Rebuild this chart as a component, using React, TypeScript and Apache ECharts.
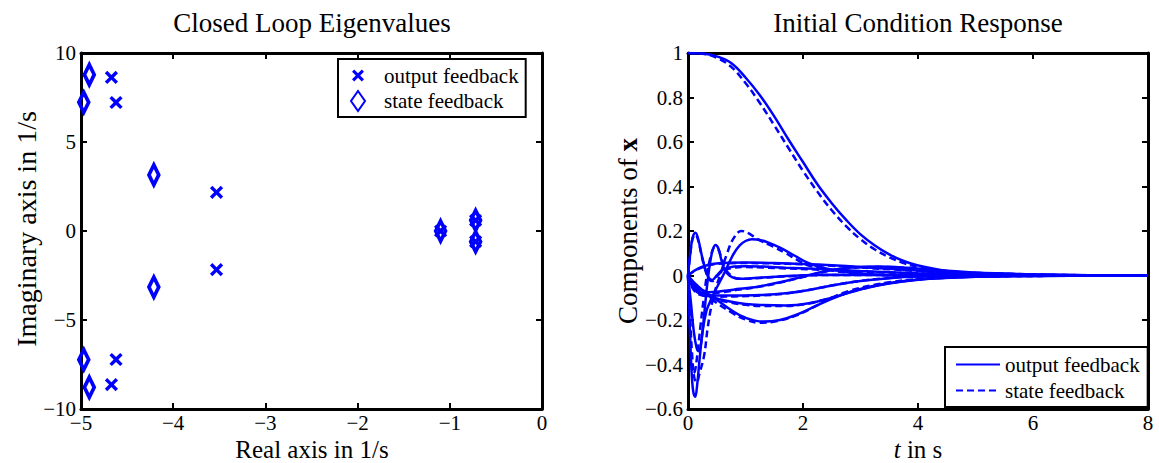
import React, { useEffect, useRef } from "react";
import * as echarts from "echarts";

const FONT = "Liberation Serif";
const BLUE = "#0000ff";

// ---- Left chart: closed loop eigenvalues [real, imag] ----
const outputEig: number[][] = [
  [-4.67, 8.63], [-4.62, 7.22], [-3.53, 2.17], [-3.53, -2.17],
  [-4.62, -7.22], [-4.67, -8.63], [-1.1, 0], [-0.72, 0.6], [-0.72, -0.6],
];
const stateEig: number[][] = [
  [-4.91, 8.78], [-4.97, 7.23], [-4.21, 3.15], [-4.21, -3.15],
  [-4.97, -7.23], [-4.91, -8.78], [-1.1, 0], [-0.72, 0.6], [-0.72, -0.6],
];
const realTicks = [-5, -4, -3, -2, -1, 0];
const imagTicks = [-10, -5, 0, 5, 10];

// ---- Right chart: initial condition response [t, x_i] ----
// output feedback (solid)
const oA = [[0,1],[0.25,0.998],[0.5,0.985],[0.75,0.955],[1,0.89],[1.25,0.81],[1.5,0.715],[1.75,0.61],[2,0.51],[2.25,0.41],[2.5,0.325],[2.75,0.25],[3,0.185],[3.25,0.135],[3.5,0.095],[3.75,0.065],[4,0.045],[4.5,0.02],[5,0.01],[6,0.003],[7,0.001],[8,0]];
const oB = [[0,0],[0.04,0.1],[0.08,0.17],[0.13,0.192],[0.18,0.16],[0.24,0.09],[0.3,0.03],[0.36,-0.01],[0.42,-0.02],[0.5,0],[0.6,0.025],[0.8,0.04],[1,0.042],[1.3,0.04],[1.7,0.035],[2.2,0.03],[3,0.02],[4,0.01],[5,0.004],[6,0.001],[8,0]];
const oC = [[0,0],[0.03,-0.22],[0.06,-0.42],[0.09,-0.52],[0.125,-0.545],[0.16,-0.49],[0.2,-0.38],[0.26,-0.24],[0.32,-0.16],[0.38,-0.12],[0.45,-0.08],[0.55,-0.03],[0.63,0.01],[0.72,0.06],[0.8,0.1],[0.9,0.135],[1,0.155],[1.11,0.163],[1.25,0.16],[1.4,0.148],[1.6,0.125],[1.85,0.09],[2.1,0.055],[2.4,0.032],[2.8,0.015],[3.3,0.003],[4,-0.003],[5,-0.003],[6,-0.001],[8,0]];
const oD = [[0,0],[0.05,-0.12],[0.1,-0.25],[0.15,-0.325],[0.19,-0.34],[0.23,-0.3],[0.28,-0.18],[0.33,-0.05],[0.38,0.05],[0.43,0.115],[0.48,0.137],[0.53,0.12],[0.58,0.07],[0.64,0.025],[0.72,0],[0.82,-0.012],[0.95,-0.015],[1.2,-0.01],[1.6,-0.004],[2.5,0.003],[4,0.002],[8,0]];
const oE = [[0,0],[0.1,-0.03],[0.25,-0.065],[0.45,-0.1],[0.75,-0.155],[1,-0.19],[1.3,-0.207],[1.6,-0.2],[1.9,-0.175],[2.2,-0.14],[2.5,-0.105],[2.8,-0.075],[3.2,-0.048],[3.6,-0.03],[4,-0.018],[4.5,-0.01],[5,-0.006],[6,-0.002],[8,0]];
const oF = [[0,0],[0.1,-0.05],[0.25,-0.08],[0.45,-0.1],[0.7,-0.115],[1,-0.128],[1.3,-0.133],[1.7,-0.135],[2.1,-0.125],[2.5,-0.1],[2.9,-0.07],[3.3,-0.045],[3.7,-0.028],[4.2,-0.015],[5,-0.006],[6,-0.002],[8,0]];
const oG = [[0,0],[0.1,-0.06],[0.25,-0.085],[0.5,-0.09],[0.8,-0.09],[1.26,-0.088],[1.7,-0.08],[2.1,-0.065],[2.5,-0.045],[3,-0.025],[3.5,-0.012],[4,-0.005],[5,0],[8,0]];
const oH = [[0,0],[0.1,0.02],[0.25,0.04],[0.45,0.053],[0.7,0.057],[1,0.058],[1.5,0.056],[2,0.052],[2.5,0.046],[3,0.038],[3.5,0.03],[4,0.022],[4.5,0.015],[5,0.01],[6,0.004],[7,0.001],[8,0]];
const oI = [[0,0],[0.15,-0.05],[0.35,-0.075],[0.6,-0.07],[0.9,-0.06],[1.26,-0.048],[1.6,-0.03],[2,-0.005],[2.4,0.02],[2.8,0.035],[3.3,0.04],[3.8,0.035],[4.3,0.025],[5,0.013],[6,0.005],[7,0.001],[8,0]];
// state feedback (dashed)
const sA = [[0,1],[0.25,0.997],[0.5,0.978],[0.75,0.938],[1,0.865],[1.25,0.775],[1.5,0.675],[1.75,0.572],[2,0.47],[2.25,0.377],[2.5,0.293],[2.75,0.222],[3,0.163],[3.25,0.117],[3.5,0.082],[3.75,0.056],[4,0.038],[4.5,0.017],[5,0.008],[6,0.002],[7,0.0005],[8,0]];
const sB = [[0,0],[0.04,0.095],[0.08,0.165],[0.13,0.185],[0.18,0.155],[0.24,0.085],[0.3,0.025],[0.36,-0.015],[0.42,-0.025],[0.5,-0.005],[0.6,0.02],[0.8,0.035],[1,0.038],[1.3,0.036],[1.7,0.032],[2.2,0.027],[3,0.018],[4,0.009],[5,0.004],[6,0.001],[8,0]];
const sC = [[0,0],[0.03,-0.15],[0.07,-0.35],[0.11,-0.46],[0.15,-0.48],[0.2,-0.44],[0.28,-0.36],[0.34,-0.24],[0.4,-0.146],[0.48,-0.06],[0.57,0.01],[0.68,0.1],[0.8,0.17],[0.93,0.2],[1.05,0.19],[1.2,0.165],[1.48,0.13],[1.7,0.1],[1.9,0.07],[2.1,0.045],[2.4,0.027],[2.8,0.012],[3.3,0.002],[4,-0.003],[5,-0.002],[8,0]];
const sD = [[0,0],[0.03,-0.2],[0.06,-0.38],[0.09,-0.44],[0.12,-0.43],[0.16,-0.36],[0.22,-0.22],[0.28,-0.09],[0.34,0.02],[0.4,0.09],[0.46,0.125],[0.52,0.12],[0.58,0.08],[0.65,0.03],[0.75,0],[0.9,-0.015],[1.2,-0.012],[1.6,-0.005],[2.5,0.002],[8,0]];
const sE = [[0,0],[0.1,-0.035],[0.25,-0.075],[0.45,-0.115],[0.75,-0.165],[1,-0.198],[1.25,-0.212],[1.55,-0.205],[1.9,-0.178],[2.2,-0.14],[2.5,-0.1],[2.8,-0.07],[3.2,-0.044],[3.6,-0.027],[4,-0.016],[4.5,-0.009],[5,-0.005],[6,-0.002],[8,0]];
const sF = [[0,0],[0.1,-0.055],[0.25,-0.085],[0.45,-0.105],[0.7,-0.12],[1,-0.132],[1.3,-0.137],[1.7,-0.137],[2.1,-0.126],[2.5,-0.1],[2.9,-0.069],[3.3,-0.044],[3.7,-0.027],[4.2,-0.014],[5,-0.005],[6,-0.002],[8,0]];
const sG = [[0,0],[0.1,-0.065],[0.25,-0.09],[0.5,-0.095],[0.8,-0.094],[1.26,-0.09],[1.7,-0.081],[2.1,-0.065],[2.5,-0.045],[3,-0.024],[3.5,-0.011],[4,-0.004],[5,0],[8,0]];
const sH = [[0,0],[0.1,0.018],[0.25,0.037],[0.45,0.05],[0.7,0.055],[1,0.056],[1.5,0.054],[2,0.05],[2.5,0.044],[3,0.036],[3.5,0.028],[4,0.02],[4.5,0.014],[5,0.009],[6,0.004],[7,0.001],[8,0]];
const sI = [[0,0],[0.15,-0.055],[0.35,-0.08],[0.6,-0.075],[0.9,-0.063],[1.26,-0.05],[1.6,-0.032],[2,-0.007],[2.4,0.018],[2.8,0.033],[3.3,0.038],[3.8,0.034],[4.3,0.024],[5,0.012],[6,0.005],[7,0.001],[8,0]];

const outputCurves = [oA, oB, oC, oD, oE, oF, oG, oH, oI];
const stateCurves = [sA, sB, sC, sD, sE, sF, sG, sH, sI];
const timeTicks = [0, 2, 4, 6, 8];
const respTicks = [-0.6, -0.4, -0.2, 0, 0.2, 0.4, 0.6, 0.8, 1];

const legendNames: Record<string, string> = {
  outLine: "output feedback",
  stateLine: "state feedback",
};

const X_PATH =
  "path://M0,0M20,20M4,6.2L6.2,4L10,7.8L13.8,4L16,6.2L12.2,10L16,13.8L13.8,16L10,12.2L6.2,16L4,13.8L7.8,10Z";
const DIAMOND_PATH = "path://M7,0L14,10L7,20L0,10Z";

const fmt = (v: number) => {
  const r = Math.round(v * 10) / 10;
  return String(r).replace("-", "\u2212");
};

function axisPair(grid: number, ticks: number[], main: string, mirror: string, margin: number) {
  const min = ticks[0];
  const max = ticks[ticks.length - 1];
  const interval = ticks[1] - ticks[0];
  const common = {
    type: "value",
    gridIndex: grid,
    min,
    max,
    interval,
    splitLine: { show: false },
    axisLine: { show: true, onZero: false, lineStyle: { color: "#000", width: 3 } },
    axisTick: { show: true, inside: true, length: 6, lineStyle: { color: "#000", width: 2 } },
  };
  return [
    {
      ...common,
      position: main,
      axisLabel: {
        show: true,
        margin,
        color: "#000",
        fontFamily: FONT,
        fontSize: 21,
        formatter: fmt,
        showMinLabel: true,
        showMaxLabel: true,
      },
    },
    { ...common, position: mirror, axisLabel: { show: false } },
  ];
}

export default function App() {
  const ref = useRef<HTMLDivElement>(null);

  useEffect(() => {
    if (!ref.current) return;
    const chart = echarts.init(ref.current, undefined, { renderer: "svg" });

    const lineSeries: any[] = [];
    outputCurves.forEach((c) =>
      lineSeries.push({
        type: "line",
        name: "outLine",
        xAxisIndex: 2,
        yAxisIndex: 2,
        data: c,
        symbol: "none",
        smooth: 0.4,
        lineStyle: { color: BLUE, width: 2.5, type: "solid" },
        itemStyle: { color: BLUE },
      })
    );
    stateCurves.forEach((c) =>
      lineSeries.push({
        type: "line",
        name: "stateLine",
        xAxisIndex: 2,
        yAxisIndex: 2,
        data: c,
        symbol: "none",
        smooth: 0.4,
        lineStyle: { color: BLUE, width: 2.5, type: [7, 4] },
        itemStyle: { color: BLUE },
      })
    );

    const textStyle = { fontFamily: FONT, fill: "#000", align: "center", verticalAlign: "middle" };

    chart.setOption({
      animation: false,
      backgroundColor: "#fff",
      textStyle: { fontFamily: FONT, color: "#000" },
      grid: [
        { left: 81, right: 617, top: 53, bottom: 54 },
        { left: 688, right: 11, top: 53, bottom: 54 },
      ],
      xAxis: [
        ...axisPair(0, realTicks, "bottom", "top", 3),
        ...axisPair(1, timeTicks, "bottom", "top", 3),
      ],
      yAxis: [
        ...axisPair(0, imagTicks, "left", "right", 5),
        ...axisPair(1, respTicks, "left", "right", 5),
      ],
      legend: [
        {
          data: ["output feedback", "state feedback"],
          orient: "vertical",
          left: 338,
          top: 59,
          padding: [6, 7, 5, 10],
          itemWidth: 42,
          itemHeight: 20,
          itemGap: 4,
          symbolKeepAspect: true,
          selectedMode: false,
          borderColor: "#000",
          borderWidth: 2,
          borderRadius: 0,
          backgroundColor: "#fff",
          textStyle: { fontFamily: FONT, fontSize: 21, color: "#000", lineHeight: 20 },
        },
        {
          data: ["outLine", "stateLine"],
          formatter: (n: string) => legendNames[n],
          orient: "vertical",
          left: 945,
          top: 347,
          padding: [7, 8, 6, 10],
          itemWidth: 44,
          itemHeight: 14,
          itemGap: 5,
          selectedMode: false,
          borderColor: "#000",
          borderWidth: 2,
          borderRadius: 0,
          backgroundColor: "#fff",
          itemStyle: { opacity: 0 },
          textStyle: { fontFamily: FONT, fontSize: 21, color: "#000", lineHeight: 20 },
        },
      ],
      graphic: [
        { type: "text", x: 312, y: 23, style: { ...textStyle, text: "Closed Loop Eigenvalues", fontSize: 27 } },
        { type: "text", x: 918, y: 23, style: { ...textStyle, text: "Initial Condition Response", fontSize: 27 } },
        { type: "text", x: 312, y: 449, style: { ...textStyle, text: "Real axis in 1/s", fontSize: 25 } },
        {
          type: "text",
          x: 918,
          y: 449,
          style: {
            ...textStyle,
            text: "{i|t}{n| in s}",
            fontSize: 25,
            rich: {
              i: { fontFamily: FONT, fontSize: 25, fontStyle: "italic", fill: "#000" },
              n: { fontFamily: FONT, fontSize: 25, fill: "#000" },
            },
          },
        },
        {
          type: "text",
          x: 26,
          y: 229,
          rotation: Math.PI / 2,
          style: { ...textStyle, text: "Imaginary axis in 1/s", fontSize: 28 },
        },
        {
          type: "text",
          x: 628,
          y: 231,
          rotation: Math.PI / 2,
          style: {
            ...textStyle,
            text: "{n|Components of }{b|x}",
            fontSize: 27,
            rich: {
              n: { fontFamily: FONT, fontSize: 27, fill: "#000" },
              b: { fontFamily: FONT, fontSize: 27, fontWeight: "bold", fill: "#000" },
            },
          },
        },
      ],
      series: [
        {
          type: "scatter",
          name: "output feedback",
          xAxisIndex: 0,
          yAxisIndex: 0,
          data: outputEig,
          symbol: X_PATH,
          symbolSize: 22,
          symbolKeepAspect: true,
          itemStyle: { color: BLUE, opacity: 1 },
          z: 3,
        },
        {
          type: "scatter",
          name: "state feedback",
          xAxisIndex: 0,
          yAxisIndex: 0,
          data: stateEig,
          symbol: DIAMOND_PATH,
          symbolSize: [14, 20],
          symbolKeepAspect: true,
          itemStyle: { color: "rgba(0,0,0,0)", borderColor: BLUE, borderWidth: 4, opacity: 1 },
          z: 3,
        },
        ...lineSeries,
      ],
    });

    return () => chart.dispose();
  }, []);

  return (
    <div
      ref={ref}
      style={{ position: "fixed", left: 0, top: 0, width: 1159, height: 463, background: "#fff" }}
    />
  );
}
